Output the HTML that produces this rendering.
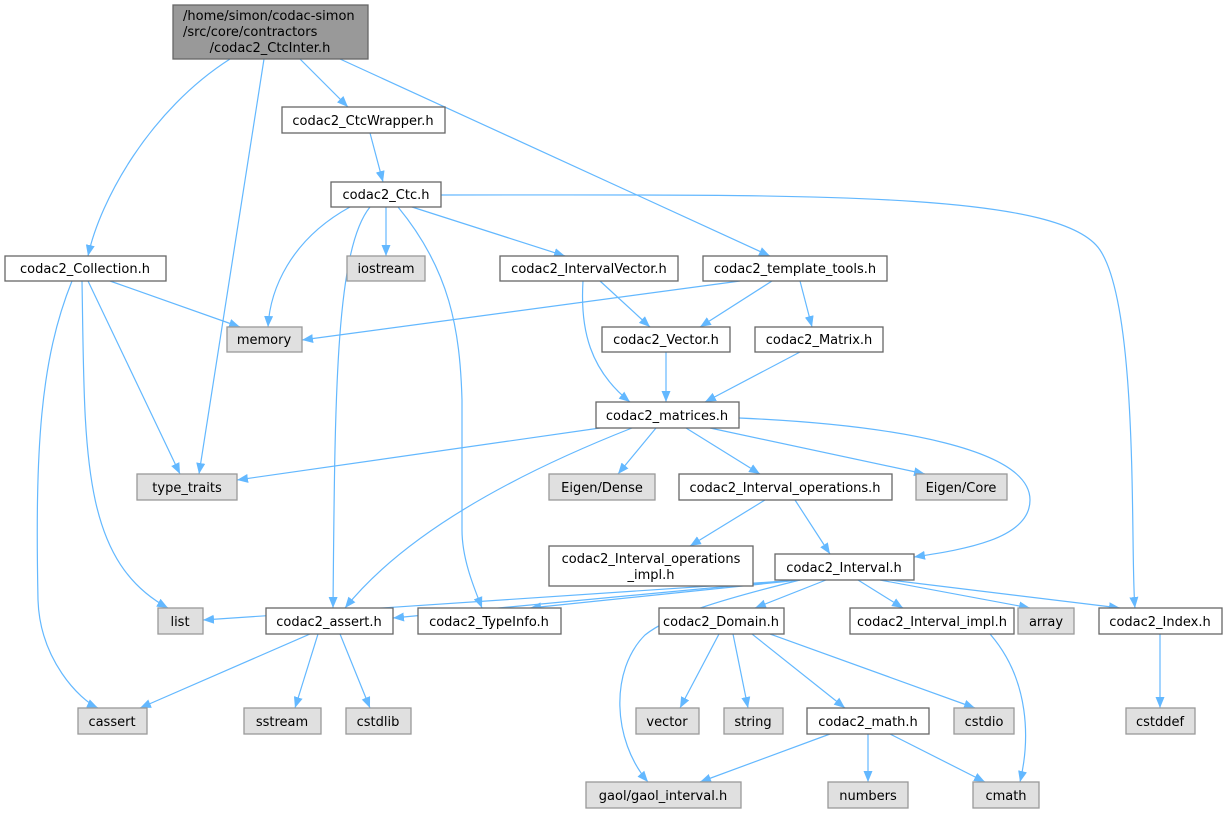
<!DOCTYPE html>
<html><head><meta charset="utf-8"><style>
html,body{margin:0;padding:0;background:#fff;}
svg text{font-family:"DejaVu Sans","Liberation Sans",sans-serif;font-size:13px;fill:#000;}
.n{fill:#fff;stroke:#666;stroke-width:1.3;}
.g{fill:#e0e0e0;stroke:#999;stroke-width:1.3;}
.e{fill:none;stroke:#63b8ff;stroke-width:1.2;marker-end:url(#a);}
</style></head><body>
<svg width="1228" height="813" viewBox="0 0 1228 813" xmlns="http://www.w3.org/2000/svg">
<defs><marker id="a" markerUnits="userSpaceOnUse" markerWidth="12" markerHeight="10" refX="11" refY="4.5" orient="auto"><path d="M0,0 L11,4.5 L0,9 z" fill="#63b8ff"/></marker></defs>
<g>
<path class="e" d="M230,59 C150,110 100,200 88,256"/>
<path class="e" d="M264,59 L199,474"/>
<path class="e" d="M300,59 L348,107"/>
<path class="e" d="M340,59 L770,256"/>
<path class="e" d="M370,133 L383,182"/>
<path class="e" d="M350,207 C290,240 270,290 268,327"/>
<path class="e" d="M370,207 C335,250 335,400 333,608"/>
<path class="e" d="M386,207 L386,256"/>
<path class="e" d="M398,207 C450,270 460,330 462,400 L462,530 C462,560 475,590 482,608"/>
<path class="e" d="M412,207 L565,256"/>
<path class="e" d="M441,195 C800,195 1060,190 1100,250 C1140,310 1130,560 1135,608"/>
<path class="e" d="M110,281 L240,327"/>
<path class="e" d="M88,281 L180,474"/>
<path class="e" d="M82,281 C85,450 80,560 168,608"/>
<path class="e" d="M72,281 C40,360 35,450 38,600 C40,660 80,700 98,708"/>
<path class="e" d="M600,281 L650,327"/>
<path class="e" d="M583,281 C580,330 590,370 630,402"/>
<path class="e" d="M740,281 L302,340"/>
<path class="e" d="M772,281 L700,327"/>
<path class="e" d="M800,281 L812,327"/>
<path class="e" d="M666,352 L666,402"/>
<path class="e" d="M800,352 L705,402"/>
<path class="e" d="M600,428 L237,480"/>
<path class="e" d="M632,428 C500,480 400,540 345,608"/>
<path class="e" d="M656,428 L618,474"/>
<path class="e" d="M686,428 L760,474"/>
<path class="e" d="M710,428 L925,474"/>
<path class="e" d="M739,418 C900,425 1030,450 1030,500 C1030,540 960,550 914,557"/>
<path class="e" d="M765,500 L690,546"/>
<path class="e" d="M795,500 L830,554"/>
<path class="e" d="M800,580 L203,620"/>
<path class="e" d="M795,580 L393,618"/>
<path class="e" d="M800,580 L530,608"/>
<path class="e" d="M800,580 C720,600 670,615 645,635 C610,670 612,740 648,782"/>
<path class="e" d="M826,580 L755,608"/>
<path class="e" d="M858,580 L903,608"/>
<path class="e" d="M880,580 L1030,608"/>
<path class="e" d="M890,580 L1120,608"/>
<path class="e" d="M310,634 L140,708"/>
<path class="e" d="M318,634 L295,708"/>
<path class="e" d="M340,634 L370,708"/>
<path class="e" d="M719,634 L680,708"/>
<path class="e" d="M733,634 L748,708"/>
<path class="e" d="M752,634 L845,708"/>
<path class="e" d="M770,634 L975,708"/>
<path class="e" d="M990,634 C1030,680 1030,740 1020,782"/>
<path class="e" d="M1160,634 L1160,708"/>
<path class="e" d="M830,734 L700,782"/>
<path class="e" d="M868,734 L868,782"/>
<path class="e" d="M890,734 L985,782"/>
</g>
<g>
<rect x="173" y="5" width="195" height="54" fill="#999" stroke="#666" stroke-width="1.3"/>
<text x="183" y="20">/home/simon/codac-simon</text>
<text x="183" y="36">/src/core/contractors</text>
<text x="270" y="52" text-anchor="middle">/codac2_CtcInter.h</text>
</g>
<g text-anchor="middle">
<rect class="n" x="282" y="107" width="163" height="26"/><text x="363" y="125">codac2_CtcWrapper.h</text>
<rect class="n" x="331" y="182" width="110" height="25"/><text x="386" y="199">codac2_Ctc.h</text>
<rect class="n" x="5" y="256" width="161" height="25"/><text x="85" y="273">codac2_Collection.h</text>
<rect class="g" x="227" y="327" width="75" height="25"/><text x="264" y="344">memory</text>
<rect class="g" x="347" y="256" width="78" height="25"/><text x="386" y="273">iostream</text>
<rect class="n" x="500" y="256" width="178" height="25"/><text x="589" y="273">codac2_IntervalVector.h</text>
<rect class="n" x="703" y="256" width="184" height="25"/><text x="795" y="273">codac2_template_tools.h</text>
<rect class="n" x="602" y="327" width="128" height="25"/><text x="666" y="344">codac2_Vector.h</text>
<rect class="n" x="755" y="327" width="128" height="25"/><text x="819" y="344">codac2_Matrix.h</text>
<rect class="n" x="596" y="402" width="143" height="26"/><text x="667" y="420">codac2_matrices.h</text>
<rect class="g" x="137" y="474" width="100" height="26"/><text x="187" y="492">type_traits</text>
<rect class="g" x="549" y="474" width="106" height="26"/><text x="602" y="492">Eigen/Dense</text>
<rect class="n" x="679" y="474" width="213" height="26"/><text x="785" y="492">codac2_Interval_operations.h</text>
<rect class="g" x="916" y="474" width="91" height="26"/><text x="961" y="492">Eigen/Core</text>
<rect class="n" x="549" y="546" width="204" height="40"/><text x="651" y="563">codac2_Interval_operations</text><text x="651" y="579">_impl.h</text>
<rect class="n" x="775" y="554" width="139" height="26"/><text x="844" y="572">codac2_Interval.h</text>
<rect class="g" x="158" y="608" width="45" height="26"/><text x="180" y="626">list</text>
<rect class="n" x="266" y="608" width="127" height="26"/><text x="329" y="626">codac2_assert.h</text>
<rect class="n" x="418" y="608" width="143" height="26"/><text x="489" y="626">codac2_TypeInfo.h</text>
<rect class="n" x="659" y="608" width="125" height="26"/><text x="721" y="626">codac2_Domain.h</text>
<rect class="n" x="850" y="608" width="164" height="26"/><text x="932" y="626">codac2_Interval_impl.h</text>
<rect class="g" x="1018" y="608" width="56" height="26"/><text x="1046" y="626">array</text>
<rect class="n" x="1099" y="608" width="123" height="26"/><text x="1160" y="626">codac2_Index.h</text>
<rect class="g" x="78" y="708" width="69" height="26"/><text x="112" y="726">cassert</text>
<rect class="g" x="244" y="708" width="77" height="26"/><text x="282" y="726">sstream</text>
<rect class="g" x="346" y="708" width="65" height="26"/><text x="378" y="726">cstdlib</text>
<rect class="g" x="636" y="708" width="63" height="26"/><text x="667" y="726">vector</text>
<rect class="g" x="724" y="708" width="59" height="26"/><text x="753" y="726">string</text>
<rect class="n" x="807" y="708" width="122" height="26"/><text x="868" y="726">codac2_math.h</text>
<rect class="g" x="954" y="708" width="60" height="26"/><text x="984" y="726">cstdio</text>
<rect class="g" x="1126" y="708" width="69" height="26"/><text x="1160" y="726">cstddef</text>
<rect class="g" x="586" y="782" width="155" height="26"/><text x="663" y="800">gaol/gaol_interval.h</text>
<rect class="g" x="828" y="782" width="80" height="26"/><text x="868" y="800">numbers</text>
<rect class="g" x="973" y="782" width="66" height="26"/><text x="1006" y="800">cmath</text>
</g>
</svg>
</body></html>
